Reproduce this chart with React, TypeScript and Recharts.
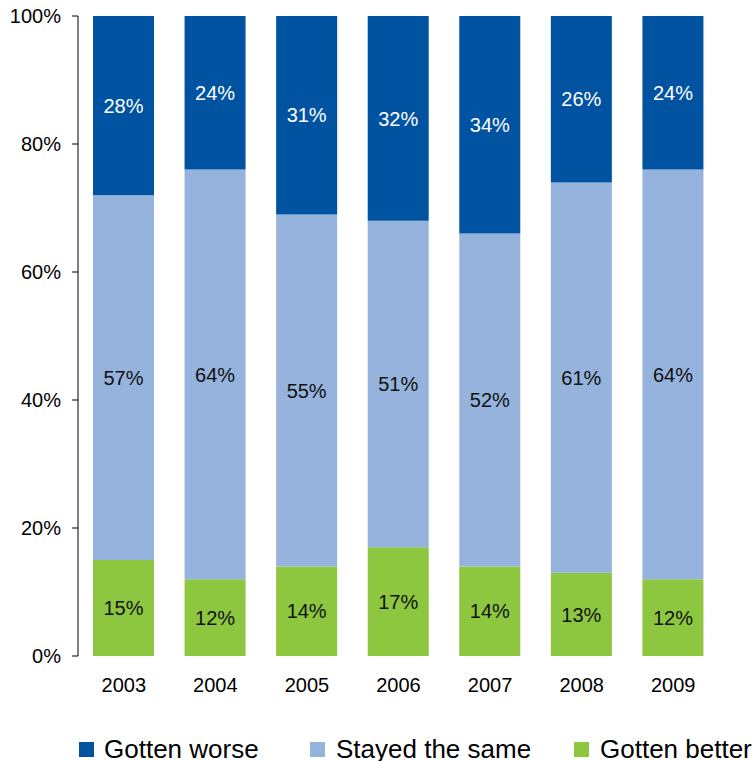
import { BarChart, Bar, XAxis, YAxis, LabelList } from "recharts";

const years = ["2003", "2004", "2005", "2006", "2007", "2008", "2009"];
const gottenBetter = [15, 12, 14, 17, 14, 13, 12];
const stayedSame = [57, 64, 55, 51, 52, 61, 64];
const gottenWorse = [28, 24, 31, 32, 34, 26, 24];
const yTicks = [0, 20, 40, 60, 80, 100];
const edgeTicks = [0, 1, 2, 3, 4, 5, 6, 7];

const seriesNames = ["Gotten worse", "Stayed the same", "Gotten better"];

const COLORS = {
  worse: "#0053A1",
  same: "#95B3DC",
  better: "#8DC63F",
};

const FONT = "'Liberation Sans', Arial, sans-serif";

const data = years.map((year, i) => ({
  year,
  better: gottenBetter[i],
  same: stayedSame[i],
  worse: gottenWorse[i],
}));

const pct = (v: number) => `${v}%`;

// legend items: [color, square left, text left]
const legendItems: [string, number, number][] = [
  [COLORS.worse, 79, 104],
  [COLORS.same, 310, 336],
  [COLORS.better, 574, 600],
];

export default function App() {
  return (
    <div
      style={{
        position: "absolute",
        left: 0,
        top: 0,
        width: 756,
        height: 761,
        background: "#fff",
        fontFamily: FONT,
        overflow: "hidden",
      }}
    >
      <BarChart
        width={756}
        height={761}
        data={data}
        margin={{ top: 16, right: 37, left: 0, bottom: 45 }}
        barSize={61}
      >
        <XAxis
          xAxisId="edges"
          type="number"
          domain={[0, 7]}
          ticks={edgeTicks}
          tick={false}
          tickSize={6}
          height={0}
          axisLine={{ stroke: "#222" }}
          tickLine={{ stroke: "#222" }}
          allowDataOverflow
        />
        <XAxis
          dataKey="year"
          height={60}
          axisLine={false}
          tickLine={false}
          tickSize={6}
          tickMargin={16}
          tick={{ fill: "#000", fontSize: 20, fontFamily: FONT }}
        />
        <YAxis
          width={78}
          domain={[0, 100]}
          ticks={yTicks}
          tickFormatter={pct}
          tickSize={6}
          tickMargin={11}
          axisLine={{ stroke: "#000" }}
          tickLine={{ stroke: "#000" }}
          tick={{ fill: "#000", fontSize: 20, fontFamily: FONT }}
        />
        <Bar dataKey="better" stackId="a" fill={COLORS.better} isAnimationActive={false}>
          <LabelList
            dataKey="better"
            position="center"
            formatter={pct}
            style={{ fill: "#111", fontSize: 20, fontFamily: FONT }}
          />
        </Bar>
        <Bar dataKey="same" stackId="a" fill={COLORS.same} isAnimationActive={false}>
          <LabelList
            dataKey="same"
            position="center"
            formatter={pct}
            style={{ fill: "#111", fontSize: 20, fontFamily: FONT }}
          />
        </Bar>
        <Bar dataKey="worse" stackId="a" fill={COLORS.worse} isAnimationActive={false}>
          <LabelList
            dataKey="worse"
            position="center"
            formatter={pct}
            style={{ fill: "#fff", fontSize: 20, fontFamily: FONT }}
          />
        </Bar>
      </BarChart>
      {legendItems.map(([color, sq, tx], i) => (
        <div key={seriesNames[i]}>
          <div
            style={{
              position: "absolute",
              left: sq,
              top: 742,
              width: 15,
              height: 15,
              background: color,
            }}
          />
          <div
            style={{
              position: "absolute",
              left: tx,
              top: 736,
              fontSize: 26,
              lineHeight: "26px",
              color: "#000",
              whiteSpace: "nowrap",
            }}
          >
            {seriesNames[i]}
          </div>
        </div>
      ))}
    </div>
  );
}
